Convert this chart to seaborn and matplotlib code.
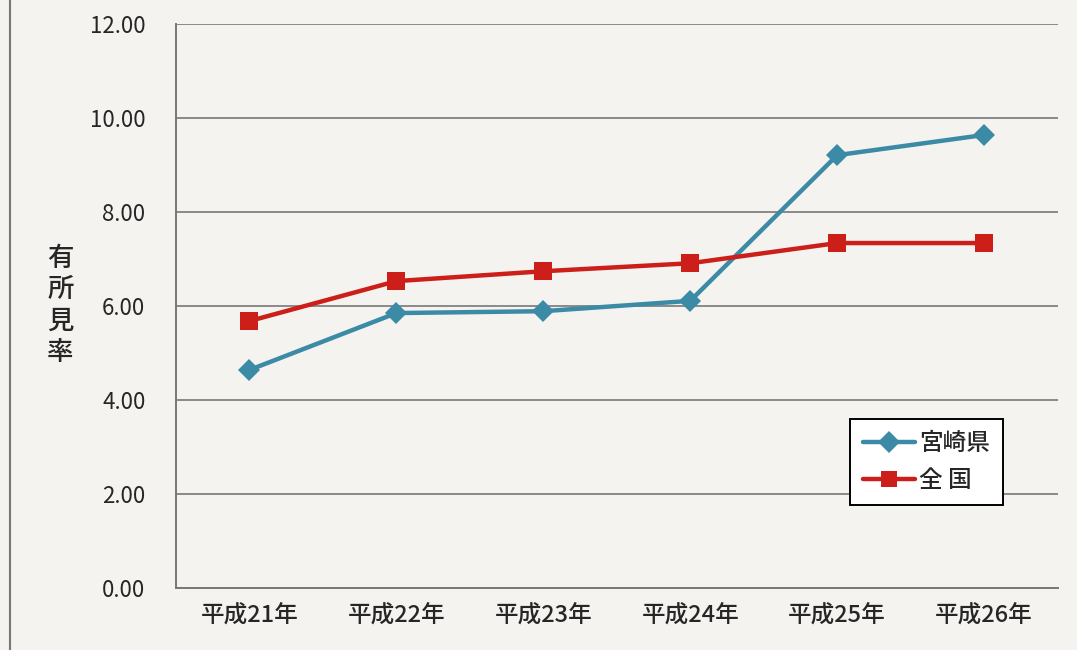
import pandas as pd
import seaborn as sns
import matplotlib.pyplot as plt

years = ['平成21年', '平成22年', '平成23年', '平成24年', '平成25年', '平成26年']
miyazaki = [4.64, 5.85, 5.89, 6.11, 9.21, 9.64]
zenkoku = [5.68, 6.53, 6.74, 6.91, 7.34, 7.34]
series_names = ['宮崎県', '全 国']

df = pd.DataFrame({
    'idx': list(range(len(years))) * 2,
    'rate': miyazaki + zenkoku,
    'region': [series_names[0]] * len(years) + [series_names[1]] * len(years),
})

sns.set_style('white')
plt.rcParams['font.family'] = ['Noto Sans CJK JP', 'DejaVu Sans']

bg = '#f4f3ef'
fig = plt.figure(figsize=(10.77, 6.5), dpi=100, facecolor=bg)
ax = fig.add_axes([0.1634, 0.0954, 0.8186, 0.8676])
ax.set_facecolor(bg)

sns.lineplot(data=df, x='idx', y='rate', hue='region', style='region',
             palette=['#3b8ba6', '#cc1f1a'], markers=['D', 's'], dashes=False,
             linewidth=3.2, markersize=11, markeredgewidth=0, ax=ax)
# larger squares for 全国
ax.lines[1].set_markersize(13)

ax.set_xlim(-0.5, 5.5)
ax.set_ylim(0, 12)
ax.set_yticks([0, 2, 4, 6, 8, 10, 12])
ax.set_yticklabels([f'{v:.2f}' for v in [0, 2, 4, 6, 8, 10, 12]], fontsize=16)
ax.set_xticks(range(len(years)))
ax.set_xticklabels(years, fontsize=17, fontweight='medium')
ax.set_xticks([i - 0.5 for i in range(len(years) + 1)], minor=True)
ax.tick_params(axis='x', which='major', length=0, pad=12)
ax.tick_params(axis='x', which='minor', length=7, width=1.2, color='#777777')
ax.tick_params(axis='y', length=8, width=1.2, color='#777777', pad=14)
ax.grid(axis='y', color='#8a8a8a', linewidth=1.4)
ax.set_axisbelow(True)

for s in ['top', 'right']:
    ax.spines[s].set_visible(False)
for s in ['left', 'bottom']:
    ax.spines[s].set_color('#777777')
    ax.spines[s].set_linewidth(1.4)

ax.set_xlabel('')
ax.set_ylabel('')
fig.text(0.056, 0.53, '有\n所\n見\n率', fontsize=19, fontweight='medium',
         ha='center', va='center', linespacing=1.2)

leg = ax.legend(loc='lower left', bbox_to_anchor=(0.765, 0.147),
                prop={'size': 17, 'weight': 'medium'}, borderaxespad=0,
                frameon=True, fancybox=False, handlelength=2.2,
                borderpad=0.55, labelspacing=0.6, handletextpad=0.15)
leg.get_frame().set_edgecolor('black')
leg.get_frame().set_linewidth(1.4)
leg.get_frame().set_facecolor('white')
leg.get_frame().set_alpha(1)

# page frame line on the left
fig.add_artist(plt.Line2D([0.009, 0.009], [0, 1], color='#777777', linewidth=1.5))

fig.savefig('out.png', dpi=100, facecolor=bg)
